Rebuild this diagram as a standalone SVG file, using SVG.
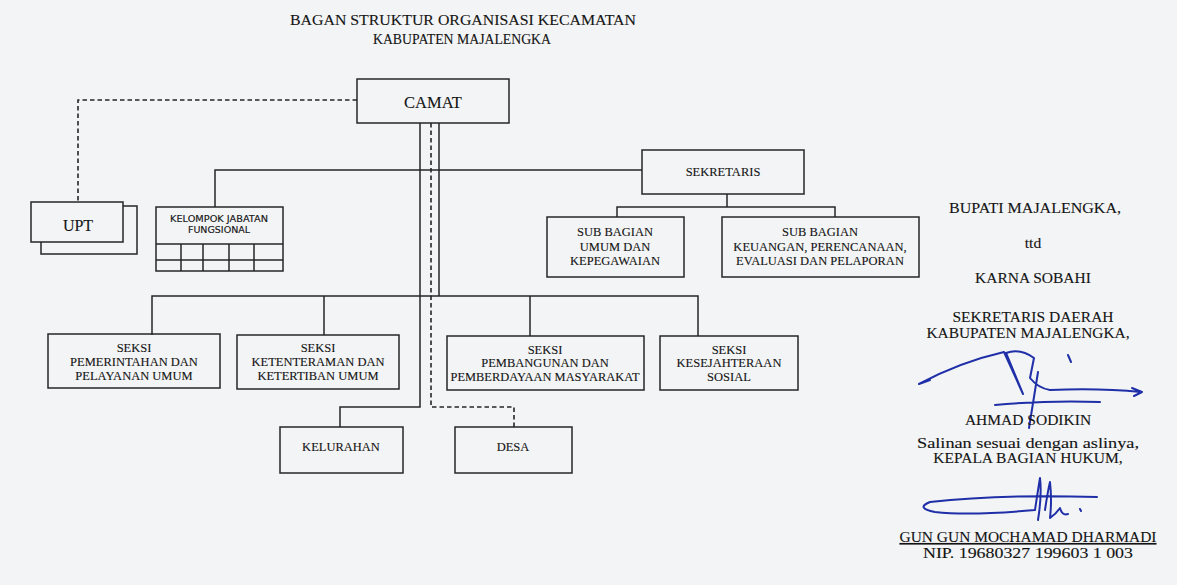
<svg xmlns="http://www.w3.org/2000/svg" width="1177" height="585" viewBox="0 0 1177 585">
<style>
.bx{fill:none;stroke:#262626;stroke-width:1.5}
.ln{fill:none;stroke:#262626;stroke-width:1.5}
.ds{fill:none;stroke:#262626;stroke-width:1.6;stroke-dasharray:4.5,3}
.t{font-family:"Liberation Serif","DejaVu Serif",serif;fill:#141414;stroke:#141414;stroke-width:0.12;text-anchor:middle}
.s{font-size:12.5px}
.r{font-size:15.5px}
.sg{fill:none;stroke:#1f2fa8;stroke-width:2;stroke-linecap:round;stroke-linejoin:round}
</style>
<rect width="1177" height="585" fill="#f3f4f6"/>
<g id="title">
<text class="t" x="463" y="25" font-size="15" textLength="346" lengthAdjust="spacingAndGlyphs">BAGAN STRUKTUR ORGANISASI KECAMATAN</text>
<text class="t" x="462" y="44" font-size="15" textLength="178" lengthAdjust="spacingAndGlyphs">KABUPATEN MAJALENGKA</text>
</g>
<g id="connectors">
<path class="ds" d="M357,100 H78 V202"/>
<path class="ln" d="M420,123 V407 H340 V427"/>
<path class="ln" d="M439,123 V296"/>
<path class="ds" d="M431,123 V407 H514 V427"/>
<path class="ln" d="M215,207 V170 H642"/>
<path class="ln" d="M727,194 V207 M617,217 V207 H835 V217"/>
<path class="ln" d="M152,335 V296 H698 V336 M324,335 V296 M530,336 V296"/>
</g>
<g id="camat"><rect class="bx" x="357" y="79" width="152" height="44"/><text class="t" x="433" y="108" font-size="16.5">CAMAT</text></g>
<g id="upt"><rect class="bx" x="41" y="206" width="96" height="48"/><rect x="31" y="202" width="92" height="40" fill="#f3f4f6" stroke="#262626" stroke-width="1.5"/><text class="t" x="78" y="231" font-size="16">UPT</text></g>
<g id="kjf"><rect class="bx" x="156" y="207" width="127" height="64"/>
<path class="ln" d="M156,244 H283 M156,260 H283 M181,244 V271 M203,244 V271 M229,244 V271 M254,244 V271"/>
<text x="219" y="222" font-family="'DejaVu Sans','Liberation Sans',sans-serif" font-size="9.5" fill="#141414" stroke="#141414" stroke-width="0.15" text-anchor="middle" textLength="98" lengthAdjust="spacingAndGlyphs">KELOMPOK JABATAN</text>
<text x="219" y="233" font-family="'DejaVu Sans','Liberation Sans',sans-serif" font-size="9.5" fill="#141414" stroke="#141414" stroke-width="0.15" text-anchor="middle">FUNGSIONAL</text></g>
<g id="sekretaris"><rect class="bx" x="642" y="150" width="162" height="44"/><text class="t s" x="723" y="176">SEKRETARIS</text></g>
<g id="sb-umum"><rect class="bx" x="547" y="217" width="137" height="60"/>
<text class="t s" x="615" y="236">SUB BAGIAN</text><text class="t s" x="615" y="251">UMUM DAN</text><text class="t s" x="615" y="265">KEPEGAWAIAN</text></g>
<g id="sb-keuangan"><rect class="bx" x="722" y="217" width="197" height="60"/>
<text class="t s" x="820" y="236">SUB BAGIAN</text><text class="t s" x="820" y="251">KEUANGAN, PERENCANAAN,</text><text class="t s" x="820" y="265">EVALUASI DAN PELAPORAN</text></g>
<g id="seksi-pemerintahan"><rect class="bx" x="48" y="334" width="172" height="54"/>
<text class="t s" x="134" y="352">SEKSI</text><text class="t s" x="134" y="366">PEMERINTAHAN DAN</text><text class="t s" x="134" y="380">PELAYANAN UMUM</text></g>
<g id="seksi-ketenteraman"><rect class="bx" x="237" y="335" width="162" height="54"/>
<text class="t s" x="318" y="352">SEKSI</text><text class="t s" x="318" y="366">KETENTERAMAN DAN</text><text class="t s" x="318" y="380">KETERTIBAN UMUM</text></g>
<g id="seksi-pembangunan"><rect class="bx" x="447" y="336" width="197" height="54"/>
<text class="t s" x="545" y="354">SEKSI</text><text class="t s" x="545" y="367">PEMBANGUNAN DAN</text><text class="t s" x="545" y="381" textLength="189" lengthAdjust="spacingAndGlyphs">PEMBERDAYAAN MASYARAKAT</text></g>
<g id="seksi-kesejahteraan"><rect class="bx" x="660" y="336" width="138" height="54"/>
<text class="t s" x="729" y="354">SEKSI</text><text class="t s" x="729" y="367">KESEJAHTERAAN</text><text class="t s" x="729" y="381">SOSIAL</text></g>
<g id="kelurahan"><rect class="bx" x="280" y="427" width="123" height="46"/><text class="t s" x="341" y="451">KELURAHAN</text></g>
<g id="desa"><rect class="bx" x="455" y="427" width="117" height="46"/><text class="t s" x="513" y="451">DESA</text></g>
<g id="signature-block">
<text class="t r" x="1035" y="213" textLength="172" lengthAdjust="spacingAndGlyphs">BUPATI MAJALENGKA,</text>
<text class="t r" x="1033" y="248">ttd</text>
<text class="t r" x="1033" y="283">KARNA SOBAHI</text>
<text class="t r" x="1033" y="322">SEKRETARIS DAERAH</text>
<text class="t r" x="1028" y="338" textLength="203" lengthAdjust="spacingAndGlyphs">KABUPATEN MAJALENGKA,</text>
<path class="sg" d="M919,384 Q960,362 1004,352 L1023,394 L1006,353 Q1020,348 1034,358 L1030,378 Q1038,388 1050,390 Q1100,388 1141,392 M1132,388 L1142,392 L1134,396 M919,384 L930,380 M1068,355 L1071,362 M1038,372 L1029,428 M995,405 Q1050,400 1100,402"/>
<text class="t r" x="1028" y="425">AHMAD SODIKIN</text>
<text class="t r" x="1028" y="448" textLength="222" lengthAdjust="spacingAndGlyphs">Salinan sesuai dengan aslinya,</text>
<text class="t r" x="1028" y="463">KEPALA BAGIAN HUKUM,</text>
<path class="sg" d="M1097,497 Q1000,494 930,502 Q915,508 935,512 Q970,516 1035,510 M1035,510 Q1038,490 1040,478 Q1042,495 1038,520 M1045,510 Q1048,490 1050,482 Q1052,500 1050,518 Q1056,514 1060,508 Q1062,516 1068,514 M1080,509 L1081,511"/>
<text class="t r" x="1028" y="542" text-decoration="underline" textLength="257" lengthAdjust="spacingAndGlyphs">GUN GUN MOCHAMAD DHARMADI</text>
<text class="t r" x="1028" y="558" textLength="210" lengthAdjust="spacingAndGlyphs">NIP. 19680327 199603 1 003</text>
</g>
</svg>
